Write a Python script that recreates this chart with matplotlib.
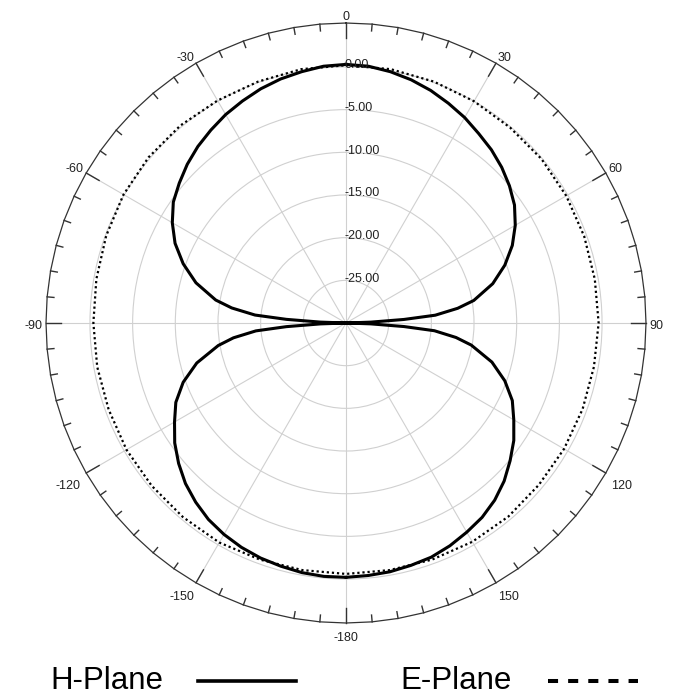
import numpy as np
import matplotlib.pyplot as plt
from matplotlib.lines import Line2D

plt.rcParams['font.family'] = ['Liberation Sans', 'DejaVu Sans']

# H-plane gain (dB); angles clockwise from top, right half 0..180,
# left half uses the same angles mirrored (0..-180)
h_angles = [0, 5, 10, 15, 20, 25, 30, 35, 40, 45, 50, 55, 60, 65, 70, 75, 80,
            82.5, 85, 86.5, 88, 90, 92, 93.5, 95, 97.5,
            100, 105, 110, 115, 120, 125, 130, 135, 140, 145, 150, 155, 160,
            165, 170, 175, 180]
h_right = [0.3, 0.2, -0.1, -0.5, -1.0, -1.6, -2.2, -2.9, -3.5, -4.2, -5.0,
           -5.9, -7.1, -8.5, -10.2, -12.2, -14.8,
           -16.8, -19.5, -23.2, -27.1, -30.0, -27.1, -23.2, -19.6, -17.0,
           -15.1, -12.3, -10.2, -8.5, -7.3, -6.0, -4.9, -3.8, -2.9, -2.2,
           -1.7, -1.2, -0.8, -0.6, -0.4, -0.3, -0.2]
h_left = [0.3, 0.2, -0.1, -0.4, -0.8, -1.3, -1.8, -2.4, -3.0, -3.7, -4.5,
          -5.3, -6.5, -7.9, -9.7, -11.8, -14.5,
          -16.5, -19.3, -23.0, -27.0, -30.0, -27.0, -23.0, -19.4, -16.7,
          -14.8, -11.9, -9.7, -8.0, -6.8, -5.5, -4.4, -3.4, -2.6, -1.9,
          -1.4, -1.0, -0.7, -0.5, -0.3, -0.2, -0.2]

# E-plane gain (dB), 10 deg steps
e_angles = np.arange(0, 370, 10)
e_plane = [0.2, 0.2, 0.1, 0.0, -0.1, -0.1, -0.2, -0.3, -0.4, -0.4,
           -0.5, -0.5, -0.5, -0.5, -0.4, -0.4, -0.5, -0.6, -0.6, -0.6,
           -0.5, -0.3, -0.3, -0.3, -0.3, -0.4, -0.4, -0.4, -0.3, -0.1,
           0.1, 0.2, 0.2, 0.1, 0.1, 0.2, 0.2]

ring_values = [-25, -20, -15, -10, -5, 0]
spoke_angles = np.arange(0, 360, 30)
spoke_labels = ['0', '30', '60', '90', '120', '150', '-180',
                '-150', '-120', '-90', '-60', '-30']

R_MIN, R_MAX = -30, 5.15
R_LAB = 5.55

fig = plt.figure(figsize=(6.74, 6.95), dpi=100)
ax = fig.add_axes([46 / 674, 72 / 695, 600 / 674, 600 / 695], projection='polar')
ax.set_theta_zero_location('N')
ax.set_theta_direction(-1)
ax.set_ylim(R_MIN, R_MAX)

ax.set_xticks(np.deg2rad(spoke_angles))
ax.set_xticklabels([])
ax.set_yticks(ring_values)
ax.set_yticklabels([])
ax.grid(True, color='#d0d0d0', lw=0.8)
ax.tick_params(length=0)
ax.spines['polar'].set_visible(False)

# outer border (polygon) with inward ticks
border = np.deg2rad(np.arange(0, 365, 5))
ax.plot(border, np.full(len(border), R_MAX), color='#333333', lw=0.9, clip_on=False)
for a in range(0, 360, 5):
    t = np.deg2rad(a)
    ln = 1.75 if a % 30 == 0 else 0.8
    ax.plot([t, t], [R_MAX, R_MAX - ln], color='#333333', lw=1.0, clip_on=False)

# angle labels
for a, lab in zip(spoke_angles, spoke_labels):
    s, c = np.sin(np.deg2rad(a)), np.cos(np.deg2rad(a))
    ha = 'left' if s > 0.3 else ('right' if s < -0.3 else 'center')
    va = 'bottom' if c > 0.3 else ('top' if c < -0.3 else 'center')
    dx = 2 * np.sign(s) if c < -0.3 and abs(s) > 0.8 else 0
    dy = -2.5 if c > -0.3 else -4.0
    ax.annotate(lab, xy=(np.deg2rad(a), R_LAB), xytext=(dx, dy),
                textcoords='offset points', ha=ha, va=va, fontsize=9,
                color='#222222', annotation_clip=False)

# ring labels
for v in ring_values:
    ax.annotate(f'{v:.2f}', xy=(0, v), xytext=(-1, 1.2), textcoords='offset points',
                ha='left', va='center', fontsize=9, color='#222222')

ax.plot(np.deg2rad(e_angles), e_plane, color='black', lw=1.6,
        linestyle=(0, (1, 1.3)))
ax.plot(np.deg2rad(h_angles), h_right, color='black', lw=2.2)
ax.plot(-np.deg2rad(h_angles), h_left, color='black', lw=2.2)

# legend
fig.text(50 / 674, 1 - 681 / 695, 'H-Plane', fontsize=22.5, ha='left', va='center')
fig.add_artist(Line2D([198 / 674, 296 / 674], [1 - 681 / 695] * 2,
                      color='black', lw=2.6, transform=fig.transFigure))
fig.text(400 / 674, 1 - 681 / 695, 'E-Plane', fontsize=22.5, ha='left', va='center')
fig.add_artist(Line2D([548 / 674, 638 / 674], [1 - 681 / 695] * 2,
                      color='black', lw=2.9, linestyle=(0, (2.5, 2.5)),
                      transform=fig.transFigure))

fig.savefig('out.png', dpi=100)
